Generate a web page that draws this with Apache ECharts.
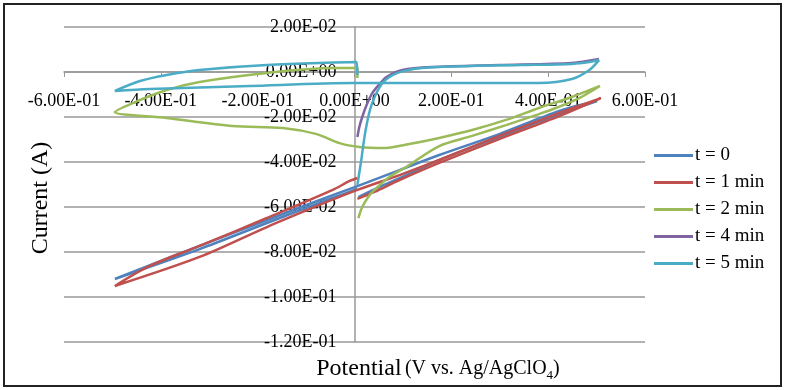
<!DOCTYPE html>
<html lang="en">
<head>
<meta charset="UTF-8" />
<title>Cyclic voltammograms</title>
<style>
  body { margin: 0; padding: 0; background: #fff; }
  .chart { width: 786px; height: 390px; }
</style>
</head>
<body>
<div class="chart"></div>
<script src="https://cdn.jsdelivr.net/npm/echarts@6/dist/echarts.min.js"></script>
<script>
// legend names
const seriesNames = ['t = 0', 't = 1 min', 't = 2 min', 't = 4 min', 't = 5 min'];
const seriesColors = ['#4F81BD', '#C0504D', '#9BBB59', '#8064A2', '#4BACC6'];

// [potential (V), current (A)], in scan order
const t0Data = [
  [0.008, -0.0556], [0.052, -0.0511], [0.113, -0.0453], [0.175, -0.0391], [0.299, -0.0289],
  [0.423, -0.0187], [0.501, -0.0129],
  [0.423, -0.0173], [0.299, -0.0276], [0.175, -0.0369], [0.093, -0.0436], [0.006, -0.0507],
  [-0.045, -0.0547], [-0.181, -0.0658], [-0.320, -0.0773], [-0.495, -0.0920],
  [-0.320, -0.0787], [-0.181, -0.0671], [-0.045, -0.0560], [0.006, -0.0520]
];
const t1Data = [
  [0.006, -0.0564], [0.041, -0.0533], [0.093, -0.0480], [0.175, -0.0404], [0.299, -0.0298],
  [0.423, -0.0196], [0.509, -0.0116],
  [0.423, -0.0182], [0.299, -0.0284], [0.175, -0.0391], [0.093, -0.0458], [0.006, -0.0524],
  [-0.062, -0.0582], [-0.181, -0.0689], [-0.320, -0.0822], [-0.495, -0.0951],
  [-0.423, -0.0862], [-0.320, -0.0773], [-0.181, -0.0649], [-0.045, -0.0524],
  [-0.010, -0.0484], [0.006, -0.0471]
];
const t2Data = [
  [0.008, -0.0649], [0.016, -0.0600], [0.027, -0.0560], [0.037, -0.0533], [0.072, -0.0467],
  [0.107, -0.0422], [0.175, -0.0329], [0.243, -0.0284], [0.313, -0.0236], [0.381, -0.0187],
  [0.416, -0.0160], [0.464, -0.0116], [0.507, -0.0062],
  [0.449, -0.0111], [0.381, -0.0160], [0.313, -0.0213], [0.243, -0.0258], [0.175, -0.0293],
  [0.113, -0.0320], [0.058, -0.0338], [0.010, -0.0333], [-0.031, -0.0316], [-0.078, -0.0276],
  [-0.148, -0.0249], [-0.252, -0.0240], [-0.388, -0.0204], [-0.495, -0.0178],
  [-0.458, -0.0138], [-0.388, -0.0080], [-0.320, -0.0044], [-0.181, -0.0004], [-0.045, 0.0018],
  [0.006, 0.0018], [0.006, -0.0027]
];
const t4Data = [
  [0.006, -0.0289], [0.010, -0.0244], [0.016, -0.0200], [0.025, -0.0147], [0.037, -0.0093],
  [0.052, -0.0053], [0.066, -0.0022], [0.099, 0.0009], [0.161, 0.0022], [0.299, 0.0031],
  [0.449, 0.0040], [0.505, 0.0058]
];
const t5Data = [
  [0.006, -0.0502], [0.014, -0.0391], [0.023, -0.0258], [0.035, -0.0147], [0.058, -0.0049],
  [0.089, -0.0004], [0.140, 0.0018], [0.243, 0.0027], [0.346, 0.0031], [0.449, 0.0036],
  [0.485, 0.0044], [0.505, 0.0053],
  [0.485, 0.0009], [0.449, -0.0031], [0.381, -0.0049], [0.196, -0.0049], [0.000, -0.0049],
  [-0.216, -0.0062], [-0.423, -0.0076], [-0.495, -0.0084],
  [-0.443, -0.0040], [-0.388, -0.0013], [-0.320, 0.0009], [-0.181, 0.0031], [0.004, 0.0044],
  [0.006, -0.0013]
];
const allData = [t0Data, t1Data, t2Data, t4Data, t5Data];

const serif = 'Liberation Serif';

// grid box; the axes cross at (0, 0) so they are shifted in by offset
const gridLeft = 64, gridRight = 141, gridTop = 27, gridBottom = 48;
const plotW = 786 - gridLeft - gridRight;
const plotH = 390 - gridTop - gridBottom;
const xMin = -0.6, xMax = 0.6, yMin = -0.12, yMax = 0.02;
const xAxisShift = plotH * (0 - yMin) / (yMax - yMin);
const yAxisShift = plotW * (0 - xMin) / (xMax - xMin);

// 0.02 -> 2.00E-02
function sci(v) {
  if (Math.abs(v) < 1e-12) v = 0;
  const parts = v.toExponential(2).split('e');
  let exp = parseInt(parts[1], 10);
  const sign = exp < 0 ? '-' : '+';
  exp = Math.abs(exp);
  return parts[0] + 'E' + sign + (exp < 10 ? '0' : '') + exp;
}

const chart = echarts.init(document.querySelector('.chart'));
chart.setOption({
  animation: false,
  grid: {
    left: gridLeft, right: gridRight, top: gridTop, bottom: gridBottom,
    containLabel: false,
    outerBoundsMode: 'none'
  },
  legend: {
    orient: 'vertical',
    left: 649,
    top: 141,
    icon: 'rect',
    itemWidth: 39,
    itemHeight: 3,
    itemGap: 8,
    textStyle: { fontFamily: serif, fontSize: 19, color: '#000', padding: [0, 0, 0, -3] },
    data: seriesNames
  },
  xAxis: {
    type: 'value',
    min: xMin,
    max: xMax,
    interval: 0.2,
    offset: -xAxisShift,
    axisLine: { onZero: false, lineStyle: { color: '#999', width: 1.5 } },
    axisTick: { show: true, length: 5, lineStyle: { color: '#999' } },
    axisLabel: { margin: 20, fontFamily: serif, fontSize: 18, color: '#000', formatter: sci },
    splitLine: { show: false }
  },
  yAxis: {
    type: 'value',
    min: yMin,
    max: yMax,
    interval: 0.02,
    offset: -yAxisShift,
    axisLine: { show: true, onZero: false, lineStyle: { color: '#999', width: 1.5 } },
    axisTick: { show: false },
    axisLabel: { margin: 18, fontFamily: serif, fontSize: 18, color: '#000', formatter: sci },
    splitLine: { show: true, lineStyle: { color: '#999', width: 1.5 } }
  },
  graphic: [
    {
      type: 'rect',
      shape: { x: 4, y: 4, width: 777, height: 382 },
      style: { fill: 'none', stroke: '#222', lineWidth: 2 }
    },
    {
      type: 'text',
      x: 41,
      y: 198,
      rotation: Math.PI / 2,
      style: {
        text: 'Current (A)',
        fontFamily: serif,
        fontSize: 24,
        fill: '#000',
        align: 'center',
        verticalAlign: 'middle'
      }
    },
    {
      type: 'text',
      x: 438,
      y: 369,
      style: {
        text: '{a|Potential} {b|(V vs. Ag/AgClO}{c|4}{b|)}',
        fill: '#000',
        align: 'center',
        verticalAlign: 'middle',
        rich: {
          a: { fontFamily: serif, fontSize: 24, lineHeight: 27 },
          b: { fontFamily: serif, fontSize: 20, lineHeight: 27 },
          c: { fontFamily: serif, fontSize: 13, lineHeight: 13, verticalAlign: 'bottom' }
        }
      }
    }
  ],
  series: allData.map((d, i) => ({
    name: seriesNames[i],
    type: 'line',
    data: d,
    smooth: 0.3,
    symbol: 'none',
    color: seriesColors[i],
    lineStyle: { width: 2.5, color: seriesColors[i] }
  }))
});
</script>
</body>
</html>
